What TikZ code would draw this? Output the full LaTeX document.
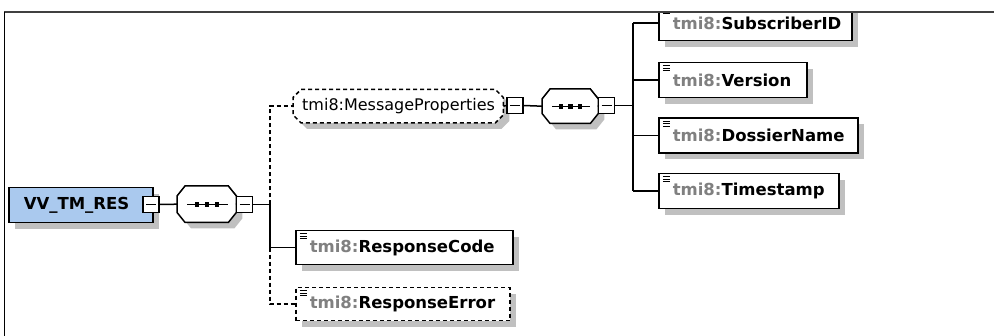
\documentclass[tikz,border=0pt]{standalone}
\usepackage{fontspec}
\setmainfont{DejaVu Sans}
\usetikzlibrary{shadows,calc}
\pgfdeclarelayer{background}
\pgfsetlayers{background,main}
\definecolor{rootblue}{RGB}{170,201,238}
\definecolor{shadecol}{RGB}{192,192,192}
\definecolor{pfx}{RGB}{128,128,128}
\newcommand\pfxtxt{\textcolor{pfx}{tmi8:}}
\newcommand\octpath[3]{($(#1.north west)+(#2,0)$) -- ($(#1.north east)+(-#2,0)$) -- ($(#1.north east)+(0,#3)$) -- ($(#1.south east)+(0,-#3)$) -- ($(#1.south east)+(-#2,0)$) -- ($(#1.south west)+(#2,0)$) -- ($(#1.south west)+(0,-#3)$) -- ($(#1.north west)+(0,#3)$) -- cycle}
\tikzset{
  shd/.style={drop shadow={shadow xshift=6pt, shadow yshift=-6pt, fill=shadecol, opacity=1, draw=none}},
  elem/.style={draw, line width=1.5pt, fill=white, shd, anchor=north west,
    minimum height=35pt, inner xsep=14pt, inner ysep=0pt, text width=#1, align=left,
    font=\fontsize{16.5}{19}\selectfont\bfseries,
    path picture={\draw[solid, line width=0.9pt]
      ([shift={(4pt,-3pt)}]path picture bounding box.north west) -- ++(7pt,0pt)
      ([shift={(4pt,-5.5pt)}]path picture bounding box.north west) -- ++(7pt,0pt)
      ([shift={(4pt,-8pt)}]path picture bounding box.north west) -- ++(7pt,0pt);}},
  optelem/.style={elem=#1, dash pattern=on 4pt off 3pt},
  rootbox/.style={draw, line width=1.5pt, fill=rootblue, shd, anchor=north west,
    minimum height=35pt, inner xsep=15pt, inner ysep=0pt, text width=114pt, align=left,
    font=\fontsize{16.5}{19}\selectfont\bfseries},
  minus/.style={draw, line width=1.1pt, fill=white, minimum size=16pt, inner sep=0pt,
    path picture={\draw[solid, line width=1.1pt]
      ([xshift=3pt]path picture bounding box.west) -- ([xshift=-3pt]path picture bounding box.east);}},
  holder/.style={anchor=north west, inner sep=0pt},
  octline/.style={line width=1.5pt, fill=white, shd},
  conn/.style={line width=1.5pt},
  dconn/.style={conn, dash pattern=on 4pt off 3pt},
}
\begin{document}
\begin{tikzpicture}[x=1pt,y=-1pt]
\useasboundingbox (0,0) rectangle (994,336);
\begin{scope}
\clip (4,12) rectangle (994,336);
% root
\node[rootbox] (root) at (8,187) {VV\_TM\_RES};
\node[minus] (m1) at (151,204.5) {};
% sequence 1
\node[holder, minimum width=59pt, minimum height=36pt] (s1) at (177,186) {};
\begin{pgfonlayer}{background}
\draw[octline] \octpath{s1}{8}{10};
\end{pgfonlayer}
\draw[line width=1.2pt] ($(s1.west)+(10,0)$) -- ($(s1.east)+(-8,0)$);
\foreach \dx in {20,30,40} \fill ($(s1.west)+(\dx-2.4,-2.4)$) rectangle ++(4.8,4.8);
\node[minus] (m1b) at (244.5,204.5) {};
\coordinate (t1) at (270,204.5);
% message properties
\node[holder, minimum height=33pt, text width=192pt, inner xsep=9pt, align=left,
  font=\fontsize{16}{19}\selectfont] (mp) at (293,89.5) {tmi8:MessageProperties};
\begin{pgfonlayer}{background}
\draw[octline, dash pattern=on 4pt off 3pt] \octpath{mp}{8}{8};
\end{pgfonlayer}
\node[minus] (m2) at (515,105.5) {};
% sequence 2
\node[holder, minimum width=56pt, minimum height=34pt] (s2) at (542,89) {};
\begin{pgfonlayer}{background}
\draw[octline] \octpath{s2}{8}{10};
\end{pgfonlayer}
\draw[line width=1.2pt] ($(s2.west)+(10,0)$) -- ($(s2.east)+(-8,0)$);
\foreach \dx in {19,28.5,38} \fill ($(s2.west)+(\dx-2.4,-2.4)$) rectangle ++(4.8,4.8);
\node[minus] (m2b) at (606.5,105.5) {};
\coordinate (t2) at (633,105.5);
% children of message properties
\node[elem=165pt] (sub) at (658,5) {\pfxtxt SubscriberID};
\node[elem=120pt] (ver) at (658,62) {\pfxtxt Version};
\node[elem=171pt] (dos) at (658,117.5) {\pfxtxt DossierName};
\node[elem=152pt] (ts) at (658,173) {\pfxtxt Timestamp};
% other children
\node[elem=189pt, minimum height=34pt] (rc) at (295,230) {\pfxtxt ResponseCode};
\node[optelem=186pt, minimum height=33pt] (re) at (295,287) {\pfxtxt ResponseError};
% connectors
\draw[conn] (m1.east) -- (s1.west);
\draw[conn] (s1.east) -- (m1b.west);
\draw[conn] (m1b.east) -- (t1);
\draw[dconn] (t1) -- (t1 |- mp.west) -- (mp.west);
\draw[conn] (t1) -- (t1 |- rc.west) -- (rc.west);
\draw[dconn] (t1 |- rc.west) -- (t1 |- re.west) -- (re.west);
\draw[conn] (mp.east) -- (m2.west);
\draw[conn] (m2.east) -- (s2.west);
\draw[conn] (s2.east) -- (m2b.west);
\draw[conn] (m2b.east) -- (t2);
\draw[conn] (t2 |- sub.west) -- (t2 |- ts.west);
\draw[conn] (t2 |- sub.west) -- (sub.west);
\draw[conn] (t2 |- ver.west) -- (ver.west);
\draw[conn] (t2 |- dos.west) -- (dos.west);
\draw[conn] (t2 |- ts.west) -- (ts.west);
\end{scope}
% frame
\draw[black!75, line width=1.3pt] (4,12) -- (994,12);
\draw[black, line width=1.2pt] (4.5,12) -- (4.5,336);
\end{tikzpicture}
\end{document}
